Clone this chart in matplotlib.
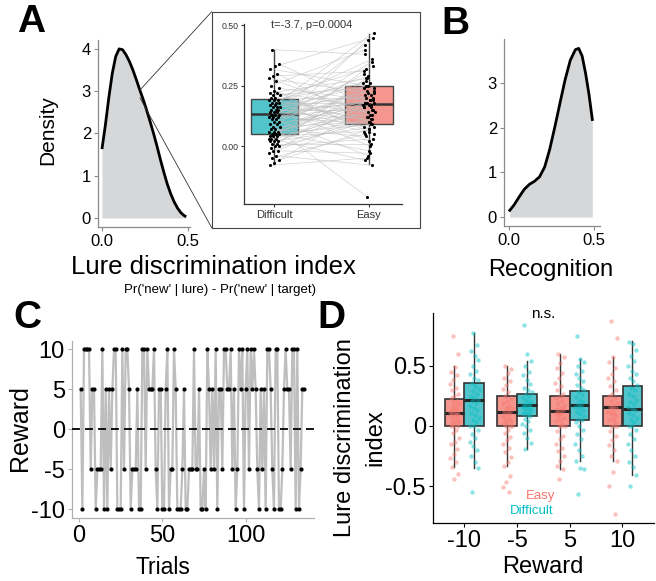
import numpy as np
import matplotlib
matplotlib.use('Agg')
import matplotlib.pyplot as plt
from matplotlib.lines import Line2D
from matplotlib.patches import Rectangle

plt.rcParams['font.family'] = ['Liberation Sans', 'DejaVu Sans']
plt.rcParams['axes.unicode_minus'] = False

# ---------------- DATA ----------------
# Panel A: density of lure discrimination index
densA_x = [0.00, 0.02, 0.04, 0.06, 0.08, 0.10, 0.12, 0.14, 0.16, 0.18, 0.20, 0.22, 0.24,
           0.26, 0.28, 0.30, 0.32, 0.34, 0.36, 0.38, 0.40, 0.42, 0.44, 0.46, 0.48, 0.49]
densA_y = [1.63, 2.20, 2.85, 3.42, 3.82, 4.00, 3.98, 3.86, 3.70, 3.50, 3.27, 3.03, 2.80,
           2.55, 2.28, 2.00, 1.70, 1.38, 1.08, 0.80, 0.57, 0.38, 0.23, 0.12, 0.05, 0.03]

# Panel A inset: paired subjects
inset_cats = ['Difficult', 'Easy']
inset_difficult = [0.40, 0.34, 0.33, 0.32, 0.30, 0.29, 0.28, 0.27, 0.25, 0.24, 0.23, 0.22, 0.22,
                   0.21, 0.21, 0.20, 0.20, 0.19, 0.19, 0.19, 0.18, 0.18, 0.18,
                   0.17, 0.17, 0.16, 0.16, 0.16, 0.15, 0.15, 0.15, 0.14, 0.14, 0.14, 0.13, 0.13,
                   0.13, 0.13, 0.12, 0.12, 0.12, 0.11, 0.11, 0.10,
                   0.10, 0.09, 0.09, 0.08, 0.08, 0.07, 0.07, 0.06, 0.06, 0.06, 0.05, 0.05, 0.05,
                   0.05, 0.04, 0.04, 0.04, 0.03, 0.03, 0.03, 0.02, 0.02,
                   0.02, 0.01, 0.01, 0.00, 0.00, -0.01, -0.02, -0.02, -0.03, -0.04, -0.05, -0.06,
                   -0.07, -0.08]
inset_easy = [0.38, 0.17, 0.45, 0.25, 0.09, 0.31, 0.22, 0.13, 0.40, 0.19, 0.05, 0.28, 0.16,
              0.24, 0.07, 0.33, 0.20, 0.10, 0.26, 0.14, 0.36, 0.18, 0.02,
              0.47, 0.12, 0.21, 0.08, 0.29, 0.15, 0.25, 0.00, 0.23, 0.18, 0.11, 0.42, 0.06,
              0.19, 0.27, 0.09, 0.16, -0.04, 0.35, 0.21, 0.13,
              0.24, -0.21, 0.17, 0.30, 0.10, 0.20, 0.04, 0.26, 0.14, 0.44, 0.09, 0.18, -0.02,
              0.22, 0.32, 0.11, 0.06, 0.25, 0.15, -0.06, 0.19, 0.08,
              0.23, 0.01, 0.16, 0.10, 0.03, 0.28, -0.03, 0.17, 0.12, -0.08, 0.05, 0.07, 0.18, -0.05]
# box stats (Difficult, Easy)
inset_q1 = [0.048, 0.091]
inset_med = [0.133, 0.175]
inset_q3 = [0.193, 0.250]
inset_whislo = [-0.076, -0.076]
inset_whishi = [0.397, 0.465]
inset_text = 't=-3.7, p=0.0004'

# Panel B: density of recognition
densB_x = [0.005, 0.03, 0.06, 0.09, 0.12, 0.15, 0.18, 0.21, 0.24, 0.27, 0.30, 0.33, 0.36,
           0.39, 0.41, 0.43, 0.45, 0.47, 0.49]
densB_y = [0.15, 0.27, 0.45, 0.62, 0.73, 0.80, 0.90, 1.12, 1.52, 2.02, 2.55, 3.07, 3.50,
           3.74, 3.77, 3.60, 3.22, 2.75, 2.18]

# Panel C: reward per trial
rewards = [5, -10, 10, 10, 10, 10, -5, 5, 5, -10, -5, -5, -5, 10, -10, 5, -10, 5, -5, 5, 10, 10,
           -10, -10, -10, 10, -5, 10, 10, 5, -10, -5, -5, -5, 5, -10, -10, 10, 10, -5, 10, 5, 5,
           5, 10, -5, -10, 5, 5, -10, -10, 5, 10, -10, -5, -5, 10, 5, -10, -10, -10, -5, 5, -10,
           -10, -5, -5, -5, 10, -5, -5, 5, -10, -10, -5, -10, 10, 5, -5, 5, -5, 10, -10, 5, 5,
           -5, 10, 10, 5, 5, 10, -5, 5, -10, -5, 10, 5, 10, -10, 5, 10, -5, 10, 5, 10, 5, -5,
           -10, 5, -5, 5, -10, 10, 10, 5, -5, -10, 10, 10, -10, -10, -5, 5, 10, 5, 5, -5, 10, 10,
           -10, 10, -10, -5, 5, 5]

# Panel D: lure discrimination index by reward and difficulty
reward_levels = ['-10', '-5', '5', '10']
D_easy = {
    '-10': [0.75, 0.60, 0.49, 0.45, 0.42, 0.38, 0.35, 0.32, 0.30, 0.27, 0.25, 0.23, 0.21, 0.20,
            0.18, 0.17, 0.15, 0.14, 0.13, 0.12, 0.11, 0.11, 0.10, 0.09, 0.08, 0.07, 0.05, 0.04,
            0.03, 0.02, 0.0, 0.0, 0.0, -0.03, -0.06, -0.10, -0.13, -0.15, -0.19, -0.23, -0.27,
            -0.30, -0.34, -0.40, -0.44],
    '-5': [0.50, 0.47, 0.44, 0.40, 0.37, 0.34, 0.31, 0.28, 0.25, 0.23, 0.21, 0.19, 0.17, 0.15,
           0.14, 0.13, 0.12, 0.11, 0.10, 0.08, 0.07, 0.06, 0.04, 0.03, 0.02, 0.0, 0.0, 0.0,
           -0.03, -0.06, -0.09, -0.12, -0.15, -0.18, -0.22, -0.26, -0.30, -0.33, -0.42, -0.47,
           -0.51, -0.55],
    '5': [0.60, 0.57, 0.52, 0.48, 0.44, 0.40, 0.36, 0.33, 0.30, 0.27, 0.25, 0.23, 0.21, 0.19,
          0.17, 0.15, 0.14, 0.13, 0.12, 0.11, 0.10, 0.08, 0.07, 0.05, 0.04, 0.02, 0.0, 0.0, 0.0,
          -0.04, -0.08, -0.11, -0.15, -0.18, -0.21, -0.25, -0.29, -0.33, -0.36, -0.44],
    '10': [0.87, 0.73, 0.57, 0.53, 0.48, 0.43, 0.40, 0.37, 0.33, 0.30, 0.27, 0.25, 0.23, 0.21,
           0.19, 0.17, 0.16, 0.15, 0.14, 0.12, 0.11, 0.10, 0.08, 0.06, 0.05, 0.03, 0.0, 0.0, 0.0,
           -0.04, -0.08, -0.12, -0.16, -0.20, -0.25, -0.29, -0.38, -0.50, -0.73],
}
D_difficult = {
    '-10': [0.77, 0.67, 0.62, 0.58, 0.55, 0.50, 0.46, 0.43, 0.40, 0.38, 0.36, 0.33, 0.31, 0.29,
            0.27, 0.25, 0.23, 0.22, 0.21, 0.19, 0.17, 0.15, 0.13, 0.11, 0.09, 0.07, 0.05, 0.03,
            0.0, 0.0, -0.03, -0.07, -0.10, -0.13, -0.17, -0.20, -0.25, -0.30, -0.35, -0.55],
    '-5': [0.84, 0.60, 0.54, 0.50, 0.45, 0.42, 0.38, 0.35, 0.32, 0.30, 0.28, 0.27, 0.25, 0.23,
           0.22, 0.20, 0.19, 0.18, 0.17, 0.17, 0.16, 0.15, 0.14, 0.13, 0.12, 0.11, 0.10, 0.09,
           0.08, 0.06, 0.04, 0.02, 0.0, -0.03, -0.06, -0.10, -0.14, -0.19],
    '5': [0.75, 0.56, 0.53, 0.50, 0.46, 0.43, 0.40, 0.37, 0.34, 0.32, 0.30, 0.28, 0.26, 0.24,
          0.22, 0.20, 0.18, 0.17, 0.16, 0.15, 0.13, 0.12, 0.10, 0.08, 0.06, 0.05, 0.03, 0.0,
          -0.03, -0.07, -0.11, -0.15, -0.20, -0.25, -0.29, -0.35, -0.36, -0.57],
    '10': [0.70, 0.68, 0.63, 0.58, 0.54, 0.50, 0.46, 0.43, 0.40, 0.37, 0.34, 0.32, 0.30, 0.27,
           0.25, 0.22, 0.20, 0.18, 0.16, 0.14, 0.13, 0.11, 0.09, 0.07, 0.05, 0.03, 0.0, 0.0,
           -0.03, -0.07, -0.11, -0.15, -0.20, -0.25, -0.30, -0.34, -0.41, -0.50],
}
# box stats, per reward level
D_easy_q1 = [0.0, 0.0, 0.0, 0.0]
D_easy_med = [0.111, 0.117, 0.128, 0.158]
D_easy_q3 = [0.228, 0.250, 0.250, 0.250]
D_easy_whislo = [-0.34, -0.333, -0.356, -0.29]
D_easy_whishi = [0.50, 0.50, 0.60, 0.57]
D_diff_q1 = [0.0, 0.08, 0.053, 0.0]
D_diff_med = [0.219, 0.172, 0.172, 0.142]
D_diff_q3 = [0.358, 0.270, 0.294, 0.330]
D_diff_whislo = [-0.35, -0.194, -0.29, -0.41]
D_diff_whishi = [0.77, 0.54, 0.56, 0.705]

# ---------------- STYLE ----------------
W, H = 656, 581
fig = plt.figure(figsize=(W / 100, H / 100), dpi=100)
TEAL_BOX = '#52C5CC'
PINK_BOX = '#F4958E'
TEAL_PT = '#00BFC4'
PINK_PT = '#F8766D'
SPINE_GREY = '#8a8a8a'
DENS_FILL = '#D6D7D9'


def ax_px(l, t, r, b):
    return fig.add_axes([l / W, 1 - b / H, (r - l) / W, (b - t) / H])


def fx(x):
    return x / W


def fy(y):
    return 1 - y / H


def jitter(n, half):
    return np.array([((i * 0.6180339887 + 0.31) % 1.0 - 0.5) * 2 * half for i in range(n)])


def style_axes(ax, color, labelsize, tcolor='black'):
    for s in ['top', 'right']:
        ax.spines[s].set_visible(False)
    for s in ['left', 'bottom']:
        ax.spines[s].set_color(color)
        ax.spines[s].set_linewidth(0.9)
    ax.tick_params(direction='out', length=3, width=0.8, color=color,
                   labelsize=labelsize, labelcolor=tcolor, pad=2)
    ax.set_facecolor('none')


def make_stats(q1, med, q3, lo, hi):
    return [dict(q1=a, med=b, q3=c, whislo=d, whishi=e, fliers=[])
            for a, b, c, d, e in zip(q1, med, q3, lo, hi)]

# ---------------- PANEL A (density) ----------------
axA = ax_px(98, 40, 190, 227)
axA.fill_between(densA_x, densA_y, 0, color=DENS_FILL, lw=0)
axA.plot(densA_x, densA_y, color='black', lw=2.0, solid_capstyle='butt')
axA.set_xlim(-0.023, 0.512)
axA.set_ylim(-0.213, 4.21)
axA.set_xticks([0, 0.5])
axA.set_xticklabels(['0.0', '0.5'])
axA.set_yticks([0, 1, 2, 3, 4])
style_axes(axA, SPINE_GREY, 12)
fig.text(fx(48), fy(130), 'Density', rotation=90, ha='center', va='center', fontsize=15)
fig.text(fx(213), fy(267), 'Lure discrimination index', ha='center', va='center', fontsize=18.5)
fig.text(fx(220), fy(290), "Pr('new' | lure) - Pr('new' | target)", ha='center', va='center',
         fontsize=9.5)

# inset frame and connectors
fig.patches.append(Rectangle((fx(211.7), fy(227.7)), (420 - 211.7) / W, (227.7 - 11.7) / H,
                             transform=fig.transFigure, facecolor='white',
                             edgecolor='#444444', lw=0.8, zorder=1))
fig.lines.append(Line2D([fx(140), fx(211.7)], [fy(90), fy(11.7)], transform=fig.transFigure,
                        color='#333333', lw=0.6))
fig.lines.append(Line2D([fx(140), fx(211.7)], [fy(98), fy(227.7)], transform=fig.transFigure,
                        color='#333333', lw=0.6))

axI = ax_px(244, 24, 402, 204)
axI.set_zorder(3)
st = make_stats(inset_q1, inset_med, inset_q3, inset_whislo, inset_whishi)
bp = axI.bxp(st, positions=[1, 2], widths=0.5, patch_artist=True, showcaps=False,
             showfliers=False,
             boxprops=dict(edgecolor='#444444', lw=1.0),
             medianprops=dict(color='#333333', lw=1.8),
             whiskerprops=dict(color='#444444', lw=1.0))
for patch, c in zip(bp['boxes'], [TEAL_BOX, PINK_BOX]):
    patch.set_facecolor(c)
n = len(inset_difficult)
jd = jitter(n, 0.06)
je = jitter(n, 0.06)[::-1]
for i in range(n):
    axI.plot([1 + jd[i], 2 + je[i]], [inset_difficult[i], inset_easy[i]], color='#bdbdbd',
             lw=0.45, alpha=0.75, zorder=3)
axI.scatter(1 + jd, inset_difficult, s=5, color='black', zorder=4, lw=0)
axI.scatter(2 + je, inset_easy, s=5, color='black', zorder=4, lw=0)
axI.set_xlim(0.68, 2.35)
axI.set_ylim(-0.2405, 0.506)
axI.set_xticks([1, 2])
axI.set_xticklabels(inset_cats)
axI.set_yticks([0, 0.25, 0.5])
axI.set_yticklabels(['0.00', '0.25', '0.50'])
style_axes(axI, '#333333', 6.3, tcolor='#333333')
axI.tick_params(axis='x', labelsize=8)
axI.tick_params(length=2)
axI.text(1.39, 0.50, inset_text, ha='center', va='center', fontsize=8, color='#333333')

# ---------------- PANEL B ----------------
axB = ax_px(504, 39, 600, 226)
axB.fill_between(densB_x, densB_y, 0, color=DENS_FILL, lw=0)
axB.plot(densB_x, densB_y, color='black', lw=2.0)
axB.set_xlim(-0.029, 0.535)
axB.set_ylim(-0.2, 3.98)
axB.set_xticks([0, 0.5])
axB.set_xticklabels(['0.0', '0.5'])
axB.set_yticks([0, 1, 2, 3])
style_axes(axB, SPINE_GREY, 12)
fig.text(fx(551), fy(270), 'Recognition', ha='center', va='center', fontsize=17)

# ---------------- PANEL C ----------------
axC = ax_px(71.7, 341, 314.3, 517.7)
trials = np.arange(1, len(rewards) + 1)
axC.plot(trials, rewards, color='#BEBEBE', lw=1.6, zorder=2)
axC.axhline(0, color='black', lw=1.3, linestyle=(0, (4.4, 2.8)), zorder=3)
axC.scatter(trials, rewards, s=9, color='black', zorder=4, lw=0)
axC.set_xlim(-4.4, 141.2)
axC.set_ylim(-11.05, 11.05)
axC.set_xticks([0, 50, 100])
axC.set_yticks([-10, -5, 0, 5, 10])
style_axes(axC, '#b0b0b0', 17)
fig.text(fx(20), fy(428), 'Reward', rotation=90, ha='center', va='center', fontsize=18)
fig.text(fx(163), fy(568), 'Trials', ha='center', va='center', fontsize=16.5)

# ---------------- PANEL D ----------------
axD = ax_px(432.7, 313, 654, 523.3)
pos = np.arange(1, len(reward_levels) + 1)
off = 0.1875
st_e = make_stats(D_easy_q1, D_easy_med, D_easy_q3, D_easy_whislo, D_easy_whishi)
st_d = make_stats(D_diff_q1, D_diff_med, D_diff_q3, D_diff_whislo, D_diff_whishi)
for stats, p, col in [(st_e, pos - off, PINK_BOX), (st_d, pos + off, TEAL_BOX)]:
    b = axD.bxp(stats, positions=p, widths=0.37, patch_artist=True, showcaps=False,
                showfliers=False, manage_ticks=False,
                boxprops=dict(edgecolor='#333333', lw=1.2),
                medianprops=dict(color='#262626', lw=2.2),
                whiskerprops=dict(color='#333333', lw=1.0))
    for patch in b['boxes']:
        patch.set_facecolor(col)
for k, lvl in enumerate(reward_levels):
    ve = D_easy[lvl]
    vd = D_difficult[lvl]
    axD.scatter(pos[k] - off + jitter(len(ve), 0.09), ve, s=10, color=PINK_PT, alpha=0.45,
                lw=0, zorder=4)
    axD.scatter(pos[k] + off + jitter(len(vd), 0.09)[::-1], vd, s=10, color=TEAL_PT,
                alpha=0.45, lw=0, zorder=4)
axD.set_xlim(0.4, 4.6)
axD.set_ylim(-0.81, 0.94)
axD.set_xticks(pos)
axD.set_xticklabels(reward_levels)
axD.set_yticks([-0.5, 0, 0.5])
axD.set_yticklabels(['-0.5', '0', '0.5'])
style_axes(axD, 'black', 17)
axD.text(2.5, 0.93, 'n.s.', ha='center', va='center', fontsize=11)
axD.text(2.45, -0.58, 'Easy', ha='center', va='center', fontsize=9.5, color=PINK_PT)
axD.text(2.28, -0.71, 'Difficult', ha='center', va='center', fontsize=9.5, color=TEAL_PT)
fig.text(fx(345), fy(438), 'Lure discrimination', rotation=90, ha='center', va='center',
         fontsize=17)
fig.text(fx(375), fy(438), 'index', rotation=90, ha='center', va='center', fontsize=17)
fig.text(fx(543), fy(567), 'Reward', ha='center', va='center', fontsize=17)

# ---------------- PANEL LETTERS ----------------
for lbl, x, y in [('A', 31, 22), ('B', 455, 24), ('C', 27, 318), ('D', 331, 318)]:
    fig.text(fx(x), fy(y), lbl, ha='center', va='center', fontsize=28, fontweight='bold')

fig.savefig('out.png', dpi=100)
